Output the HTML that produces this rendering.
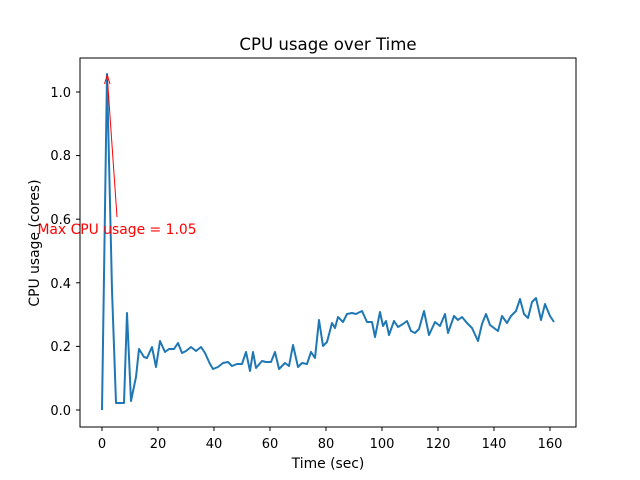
<!DOCTYPE html>
<html><head><style>body{margin:0;background:#fff}svg{display:block}text{font-family:"DejaVu Sans","Liberation Sans",sans-serif}</style></head><body>
<svg width="640" height="480" xmlns="http://www.w3.org/2000/svg">
<rect width="640" height="480" fill="#fff"/>
<polyline fill="none" stroke="#1f77b4" stroke-width="2" stroke-linejoin="round" points="102,410 107,74 112,290 116,403 124,403 127,313 131,401 136,377 139,349 144,357 147,358 152,347 156,367 160,341 165,352 169,349 174,349 178,343 182,353 186,351 191,347 196,351 201,347 205,353 210,364 213,369 218,367 223,363 228,362 232,366 237,364 242,364 246,352 250,371 253,352 256,368 262,361 266,362 271,362 275,352 279,369 285,363 289,366 293,345 298,367 302,363 307,364 311,352 315,358 319,320 323,346 327,342 332,323 335,328 338,317 343,322 347,314 352,313 356,314 362,311 367,322 372,322 375,337 380,312 383,326 386,321 389,335 394,321 398,327 403,324 407,321 411,331 415,333 419,329 424,311 429,335 435,322 440,326 445,314 448,333 454,316 458,320 462,317 467,323 472,328 478,341 482,324 486,314 490,325 494,328 498,331 502,316 507,323 511,316 516,311 520,299 524,314 528,318 532,302 536,298 541,320 545,304 550,316 554,322"/>
<line x1="117" y1="217" x2="107.5" y2="80" stroke="red" stroke-width="1"/>
<path d="M104.5,84 L107.3,75 L110,84" fill="none" stroke="red" stroke-width="1"/>
<text x="117" y="234" fill="red" font-size="13.9" text-anchor="middle">Max CPU usage = 1.05</text>
<rect x="80" y="58" width="496" height="369" fill="none" stroke="#000" stroke-width="1"/>
<g stroke="#000" stroke-width="1">
<line x1="102" y1="427" x2="102" y2="431"/><line x1="158" y1="427" x2="158" y2="431"/><line x1="214" y1="427" x2="214" y2="431"/><line x1="270" y1="427" x2="270" y2="431"/><line x1="326" y1="427" x2="326" y2="431"/><line x1="382" y1="427" x2="382" y2="431"/><line x1="438" y1="427" x2="438" y2="431"/><line x1="494" y1="427" x2="494" y2="431"/><line x1="550" y1="427" x2="550" y2="431"/>
<line x1="76" y1="410" x2="80" y2="410"/><line x1="76" y1="346.4" x2="80" y2="346.4"/><line x1="76" y1="282.8" x2="80" y2="282.8"/><line x1="76" y1="219.2" x2="80" y2="219.2"/><line x1="76" y1="155.6" x2="80" y2="155.6"/><line x1="76" y1="92" x2="80" y2="92"/>
</g>
<g font-size="13" text-anchor="middle">
<text x="102" y="448">0</text><text x="158" y="448">20</text><text x="214" y="448">40</text><text x="270" y="448">60</text><text x="326" y="448">80</text><text x="382" y="448">100</text><text x="438" y="448">120</text><text x="494" y="448">140</text><text x="550" y="448">160</text>
</g>
<g font-size="13" text-anchor="end">
<text x="71" y="415">0.0</text><text x="71" y="351">0.2</text><text x="71" y="288">0.4</text><text x="71" y="224">0.6</text><text x="71" y="160">0.8</text><text x="71" y="97">1.0</text>
</g>
<text x="328" y="468" font-size="13.9" text-anchor="middle">Time (sec)</text>
<text transform="translate(39,243) rotate(-90)" font-size="13.9" text-anchor="middle">CPU usage (cores)</text>
<text x="328" y="50" font-size="16.6" text-anchor="middle">CPU usage over Time</text>
</svg>
</body></html>
